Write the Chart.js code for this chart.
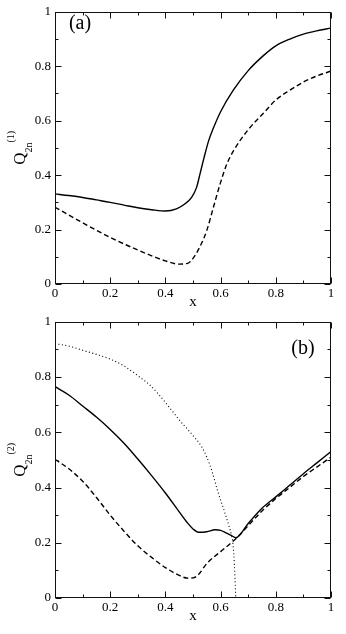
<!DOCTYPE html>
<html><head><meta charset="utf-8">
<script src="https://cdn.jsdelivr.net/npm/chart.js@4/dist/chart.umd.min.js"></script>
<style>
html,body{margin:0;padding:0;background:#fff;width:346px;height:634px;overflow:hidden}
#c1{position:absolute;left:0;top:0}
#c2{position:absolute;left:0;top:310px}
</style></head><body>
<canvas id="c1" width="346" height="310"></canvas>
<canvas id="c2" width="346" height="324"></canvas>
<script>
// ---- data ----
const tickValues = [0, 0.2, 0.4, 0.6, 0.8, 1];
const tickLabels = ['0', '0.2', '0.4', '0.6', '0.8', '1'];

// panel (a)
const aSolidX  = [0, 0.05, 0.1, 0.15, 0.2, 0.25, 0.3, 0.35, 0.4, 0.44, 0.47, 0.495, 0.513, 0.525, 0.54, 0.556, 0.574, 0.6, 0.646, 0.7, 0.755, 0.8, 0.851, 0.9, 0.948, 1.0];
const aSolidY  = [0.331, 0.325, 0.318, 0.309, 0.300, 0.290, 0.280, 0.273, 0.268, 0.276, 0.294, 0.318, 0.355, 0.403, 0.464, 0.524, 0.573, 0.633, 0.712, 0.784, 0.839, 0.875, 0.900, 0.918, 0.930, 0.940];
const aDashedX = [0, 0.1, 0.2, 0.3, 0.4, 0.45, 0.48, 0.5, 0.525, 0.55, 0.574, 0.598, 0.622, 0.646, 0.7, 0.755, 0.8, 0.851, 0.9, 0.948, 1.0];
const aDashedY = [0.282, 0.225, 0.171, 0.125, 0.085, 0.073, 0.076, 0.094, 0.137, 0.197, 0.282, 0.367, 0.439, 0.488, 0.567, 0.627, 0.676, 0.712, 0.742, 0.764, 0.782];

// panel (b)
const bSolidX  = [0, 0.05, 0.1, 0.15, 0.2, 0.25, 0.3, 0.35, 0.4, 0.45, 0.48, 0.5, 0.52, 0.55, 0.58, 0.6, 0.62, 0.64, 0.655, 0.7, 0.75, 0.8, 0.85, 0.9, 0.95, 1.0];
const bSolidY  = [0.765, 0.735, 0.695, 0.655, 0.61, 0.56, 0.503, 0.443, 0.38, 0.312, 0.272, 0.25, 0.238, 0.24, 0.247, 0.245, 0.236, 0.226, 0.218, 0.27, 0.325, 0.366, 0.408, 0.45, 0.49, 0.53];
const bDashedX = [0, 0.05, 0.1, 0.15, 0.2, 0.25, 0.3, 0.35, 0.4, 0.45, 0.48, 0.5, 0.52, 0.55, 0.6, 0.65, 0.7, 0.75, 0.8, 0.85, 0.9, 0.95, 1.0];
const bDashedY = [0.502, 0.468, 0.423, 0.364, 0.30, 0.242, 0.189, 0.147, 0.11, 0.082, 0.072, 0.073, 0.085, 0.125, 0.168, 0.21, 0.262, 0.315, 0.36, 0.40, 0.44, 0.475, 0.51];
const bDottedX = [0, 0.05, 0.1, 0.15, 0.2, 0.25, 0.3, 0.35, 0.4, 0.45, 0.5, 0.53, 0.55, 0.57, 0.59, 0.61, 0.63, 0.64, 0.645, 0.65, 0.653, 0.655];
const bDottedY = [0.921, 0.912, 0.897, 0.882, 0.865, 0.84, 0.805, 0.765, 0.708, 0.645, 0.588, 0.55, 0.51, 0.455, 0.385, 0.325, 0.262, 0.225, 0.195, 0.12, 0.05, 0.0];

// ---- drawing ----
const SERIF = "'Liberation Serif','DejaVu Serif','Times New Roman',serif";
const pts = (xs, ys) => xs.map((x, i) => ({ x, y: ys[i] }));

const decor = {
  id: 'panelDecor',
  afterDraw(chart, args, o) {
    const { ctx, chartArea: a, scales: { x, y } } = chart;
    ctx.save();
    ctx.strokeStyle = '#111';
    ctx.lineWidth = 1;
    const L = Math.round(a.left) + 0.5, R = Math.round(a.right) - 0.5;
    const T = Math.round(a.top) + 0.5, B = Math.round(a.bottom) - 0.5;
    ctx.strokeRect(L, T, R - L, B - T);
    ctx.beginPath();
    for (let i = 0; i <= 10; i++) {
      const v = i / 10, len = i % 2 === 0 ? 6 : 3;
      const px = Math.round(x.getPixelForValue(v)) + 0.5;
      ctx.moveTo(px, B); ctx.lineTo(px, B - len);
      ctx.moveTo(px, T); ctx.lineTo(px, T + len);
      const py = Math.round(y.getPixelForValue(v)) + 0.5;
      ctx.moveTo(L, py); ctx.lineTo(L + len, py);
      ctx.moveTo(R, py); ctx.lineTo(R - len, py);
    }
    ctx.stroke();
    ctx.fillStyle = '#000';
    ctx.textAlign = 'center';
    ctx.textBaseline = 'middle';
    ctx.font = '15px ' + SERIF;
    ctx.fillText('x', (a.left + a.right) / 2, o.xTitleY);
    ctx.font = '20px ' + SERIF;
    ctx.fillText(o.panel, o.panelX, o.panelY);
    // rotated y title: Q with subscript 2n and superscript
    const parts = [
      { t: 'Q', size: 17, dy: 0 },
      { t: '2n', size: 10, dy: 7 },
      { t: o.sup, size: 10, dy: -11 }
    ];
    let W = 0;
    parts.forEach(p => { ctx.font = p.size + 'px ' + SERIF; p.w = ctx.measureText(p.t).width; W += p.w; });
    ctx.translate(25, (a.top + a.bottom) / 2);
    ctx.rotate(-Math.PI / 2);
    ctx.textAlign = 'left';
    ctx.textBaseline = 'alphabetic';
    let cx = -W / 2;
    parts.forEach(p => { ctx.font = p.size + 'px ' + SERIF; ctx.fillText(p.t, cx, p.dy); cx += p.w; });
    ctx.restore();
  }
};

function makeChart(id, datasets, cfg) {
  const tickFont = { family: SERIF, size: 13 };
  return new Chart(document.getElementById(id), {
    type: 'line',
    data: { datasets },
    options: {
      responsive: false, animation: false, devicePixelRatio: 1,
      layout: { padding: { left: 0, right: 15, top: cfg.top, bottom: 0 } },
      plugins: { legend: { display: false }, tooltip: { enabled: false }, panelDecor: cfg },
      elements: {
        point: { radius: 0 },
        line: { borderColor: '#000', borderWidth: 1.4, cubicInterpolationMode: 'monotone', fill: false }
      },
      scales: {
        x: {
          type: 'linear', min: 0, max: 1,
          grid: { display: false, drawTicks: false }, border: { display: false },
          afterBuildTicks: s => { s.ticks = tickValues.map(v => ({ value: v })); },
          afterFit: s => { s.height = cfg.xh; },
          ticks: { padding: 2, color: '#000', font: tickFont, maxRotation: 0, autoSkip: false,
                   callback: (v, i) => tickLabels[i] }
        },
        y: {
          type: 'linear', min: 0, max: 1,
          grid: { display: false, drawTicks: false }, border: { display: false },
          afterBuildTicks: s => { s.ticks = tickValues.map(v => ({ value: v })); },
          afterFit: s => { s.width = 55; },
          ticks: { padding: 4, color: '#000', font: tickFont, autoSkip: false,
                   callback: (v, i) => tickLabels[i] }
        }
      }
    },
    plugins: [decor]
  });
}

makeChart('c1', [
  { data: pts(aSolidX, aSolidY) },
  { data: pts(aDashedX, aDashedY), borderDash: [5, 3] }
], { top: 8, xh: 26, xTitleY: 302, panel: '(a)', panelX: 80, panelY: 24, sup: '(1)' });

makeChart('c2', [
  { data: pts(bSolidX, bSolidY) },
  { data: pts(bDashedX, bDashedY), borderDash: [5, 3] },
  { data: pts(bDottedX, bDottedY), borderDash: [1, 2.5], borderWidth: 1.1 }
], { top: 10, xh: 36, xTitleY: 306, panel: '(b)', panelX: 303, panelY: 39, sup: '(2)' });
</script>
</body></html>
